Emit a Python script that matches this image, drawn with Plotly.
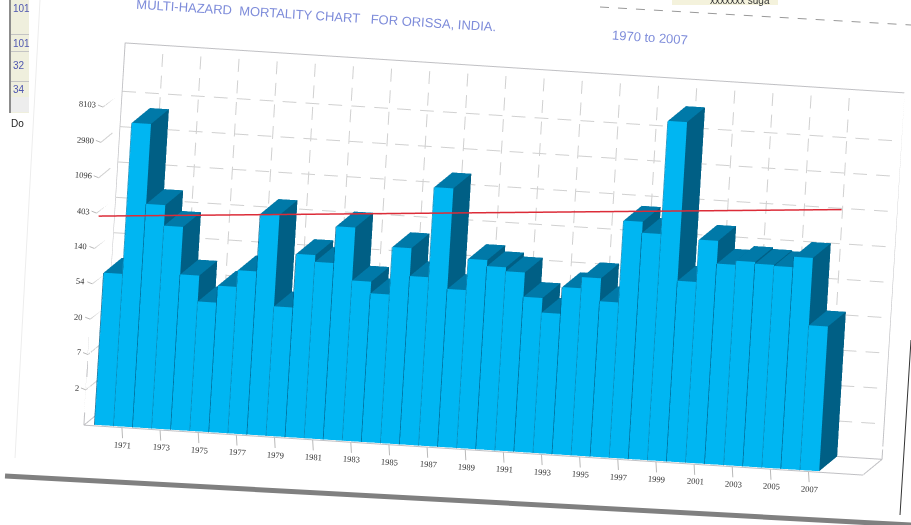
import math
import plotly.graph_objects as go

years = list(range(1970, 2008))
deaths = [74, 5320, 555, 310, 81, 39, 63, 101, 516, 39, 178, 147, 416, 93, 67, 257, 117, 1495, 87, 211,
          178, 159, 80, 53, 113, 155, 81, 822, 602, 14765, 166, 550, 289, 324, 309, 300, 403, 60]
trend_years = [1969.1, 2007.9]
trend_values = [370, 1700]
x_ticks = list(range(1971, 2008, 2))
z_tick_values = [2.718, 7.389, 20.09, 54.6, 148.4, 403.4, 1096.6, 2981, 8103]
z_tick_labels = ["2", "7", "20", "54", "140", "403", "1096", "2980", "8103"]
title_main = "MULTI-HAZARD  MORTALITY CHART   FOR ORISSA, INDIA."
title_period = "1970 to 2007"

X0, X1 = 1969.0, 2009.85
Z0, Z1 = 1.0, 31800.0
Y_BAR, Y_SEP, Y_TREND = 0.06, 0.04, 0.01
FRONT, SIDE, TOP = "#00B6F2", "#005F85", "#0079A8"

vx, vy, vz, fi, fj, fk, fc = [], [], [], [], [], [], []
dk_x, dk_y, dk_z, lt_x, lt_y, lt_z = [], [], [], [], [], []
for yr, v in zip(years, deaths):
    a, b = yr - 0.5, yr + 0.5
    s = len(vx)
    for (px, py, pz) in [(a, Y_BAR, Z0), (b, Y_BAR, Z0), (b, 1, Z0), (a, 1, Z0),
                         (a, Y_BAR, v), (b, Y_BAR, v), (b, 1, v), (a, 1, v)]:
        vx.append(px); vy.append(py); vz.append(pz)
    faces = [((0, 1, 5), FRONT), ((0, 5, 4), FRONT), ((1, 2, 6), SIDE), ((1, 6, 5), SIDE),
             ((4, 5, 6), TOP), ((4, 6, 7), TOP), ((3, 0, 4), SIDE), ((3, 4, 7), SIDE)]
    for (p, q, r), c in faces:
        fi.append(s + p); fj.append(s + q); fk.append(s + r); fc.append(c)
    if yr % 2 == 0:
        dk_x += [a, a, None]; dk_y += [Y_SEP, Y_SEP, None]; dk_z += [Z0, v, None]
    else:
        lt_x += [a, a, None]; lt_y += [Y_SEP, Y_SEP, None]; lt_z += [Z0, v, None]

fig = go.Figure()

gx, gy, gz = [], [], []
def dashed(x0, x1, y0, y1, lz0, lz1, n):
    for m in range(n):
        s0, s1 = m / n, (m + 0.6) / n
        gx.extend([x0 + (x1 - x0) * s0, x0 + (x1 - x0) * s1, None])
        gy.extend([y0 + (y1 - y0) * s0, y0 + (y1 - y0) * s1, None])
        gz.extend([math.exp(lz0 + (lz1 - lz0) * s0), math.exp(lz0 + (lz1 - lz0) * s1), None])

for t in z_tick_values:
    dashed(X0, X1, 1, 1, math.log(t), math.log(t), 34)
    dashed(X0, X0, 0, 1, math.log(t), math.log(t), 1)
for t in x_ticks:
    dashed(t, t, 1, 1, math.log(Z0), math.log(Z1), 17)
fig.add_trace(go.Scatter3d(x=gx, y=gy, z=gz, mode="lines", hoverinfo="skip", showlegend=False,
                           line=dict(color="#D0D0D0", width=2)))

fx = [X0, X1, X1, X0, X0, None, X0, X0, X0, None, X1, X1, X1, None, X0, X0, None, X0, X1]
fy = [1, 1, 1, 1, 1, None, 1, 0, 0, None, 1, 0, 0, None, 0, 0, None, 0, 0]
fz = [Z0, Z0, Z1, Z1, Z0, None, Z0, Z0, Z1, None, Z0, Z0, Z0, None, Z1, Z1, None, Z0, Z0]
fig.add_trace(go.Scatter3d(x=fx, y=fy, z=fz, mode="lines", hoverinfo="skip", showlegend=False,
                           line=dict(color="#C0C0C4", width=2)))

fig.add_trace(go.Mesh3d(x=vx, y=vy, z=vz, i=fi, j=fj, k=fk, facecolor=fc, flatshading=True,
                        hoverinfo="skip", showscale=False,
                        lighting=dict(ambient=1, diffuse=0, specular=0, fresnel=0, roughness=1)))
fig.add_trace(go.Scatter3d(x=dk_x, y=dk_y, z=dk_z, mode="lines", hoverinfo="skip", showlegend=False,
                           line=dict(color="#04608C", width=1)))
fig.add_trace(go.Scatter3d(x=lt_x, y=lt_y, z=lt_z, mode="lines", hoverinfo="skip", showlegend=False,
                           line=dict(color="#1390C0", width=1)))
fig.add_trace(go.Scatter3d(x=trend_years, y=[Y_TREND, Y_TREND], z=trend_values, mode="lines", hoverinfo="skip",
                           showlegend=False, line=dict(color="#DC2C38", width=3)))

axis_common = dict(showbackground=False, showgrid=False, zeroline=False, showspikes=False, title=dict(text=""))
w = (0.0646, -0.996, 0.0601)
up = (-0.0638, 0.0560, 0.9964)
d = 1.44
S = 1.395

tick_font = dict(family="Liberation Serif", size=8.5, color="#333333")
tick_arrow = dict(showarrow=True, arrowhead=0, arrowwidth=1, arrowcolor="#B8B8B8", textangle=3.6, font=tick_font,
                  yanchor="middle")
scene_notes = []
for t in x_ticks:
    scene_notes.append(dict(x=t, y=0, z=0, text=str(t), ax=1, ay=17, xanchor="center", **tick_arrow))
for t, lab in zip(z_tick_values, z_tick_labels):
    scene_notes.append(dict(x=X0, y=0, z=math.log10(t), text=lab, ax=-5, ay=-2, xanchor="right", **tick_arrow))

fig.update_layout(
    width=911, height=525, margin=dict(l=0, r=0, t=0, b=0), paper_bgcolor="white", showlegend=False,
    scene=dict(
        domain=dict(x=[0.0844, 1.0], y=[0.013, 1]),
        aspectmode="manual", aspectratio=dict(x=2.135 * S * 1.014, y=0.778 * S, z=1.0 * S * 1.018),
        camera=dict(projection=dict(type="orthographic"),
                    eye=dict(x=w[0] * d, y=w[1] * d, z=w[2] * d),
                    up=dict(x=up[0], y=up[1], z=up[2]), center=dict(x=0, y=0, z=0)),
        xaxis=dict(range=[X0, X1], tickvals=x_ticks, showticklabels=False, ticks="", showline=False, **axis_common),
        yaxis=dict(range=[0, 1], showticklabels=False, ticks="", showline=False, **axis_common),
        zaxis=dict(type="log", range=[0, math.log10(Z1)], tickvals=z_tick_values, ticktext=z_tick_labels,
                   showticklabels=False, ticks="", showline=False, **axis_common),
        annotations=scene_notes,
    ),
)

def px_x(p): return p / 911
def px_y(p): return 1 - p / 525

ink = "#7E8CDA"
fig.add_annotation(x=px_x(316), y=px_y(16), xref="paper", yref="paper", text=title_main, showarrow=False,
                   xanchor="center", yanchor="middle", textangle=3.6,
                   font=dict(family="Liberation Sans", size=13, color=ink))
fig.add_annotation(x=px_x(650), y=px_y(37), xref="paper", yref="paper", text=title_period, showarrow=False,
                   xanchor="center", yanchor="middle", textangle=3.6,
                   font=dict(family="Liberation Sans", size=13, color=ink))

def rect(x0, y0, x1, y1, color):
    fig.add_shape(type="rect", xref="paper", yref="paper", x0=px_x(x0), x1=px_x(x1), y0=px_y(y0), y1=px_y(y1),
                  fillcolor=color, line=dict(width=0))

rect(9, 0, 29, 113, "#EFEFDD")
rect(9, 0, 11, 113, "#8C8C8C")
for y in (34, 51, 81):
    rect(11, y, 29, y + 1, "#C4C4C4")
rect(11, 97, 29, 112, "#EDEDED")
for txt, y in (("101", 9), ("101", 44), ("32", 66), ("34", 89)):
    fig.add_annotation(x=px_x(11), y=px_y(y), xref="paper", yref="paper", text=txt, showarrow=False,
                       xanchor="left", yanchor="middle",
                       font=dict(family="Liberation Sans", size=10, color="#5058B0"))
fig.add_annotation(x=px_x(9), y=px_y(124), xref="paper", yref="paper", text="Do", showarrow=False,
                   xanchor="left", yanchor="middle",
                   font=dict(family="Liberation Sans", size=10, color="#222222"))

def seg(x0, y0, x1, y1, color, width, dash="solid"):
    fig.add_shape(type="line", xref="paper", yref="paper", x0=px_x(x0), x1=px_x(x1), y0=px_y(y0), y1=px_y(y1),
                  line=dict(color=color, width=width, dash=dash))

seg(5, 476, 911, 525, "#808080", 5)
seg(40, 0, 15, 458, "#EDEDED", 1)
seg(911, 340, 900, 515, "#333333", 1)
seg(600, 7, 911, 25, "#999999", 1, "dash")
rect(672, 0, 778, 5, "#F4F2DC")
fig.add_annotation(x=px_x(740), y=px_y(1), xref="paper", yref="paper", text="xxxxxxx suga", showarrow=False,
                   xanchor="center", yanchor="middle",
                   font=dict(family="Liberation Sans", size=10, color="#333333"))

fig.write_html("out.html", config={"displayModeBar": False},
               post_script="document.body.style.margin='0';window.dispatchEvent(new Event('resize'));")
